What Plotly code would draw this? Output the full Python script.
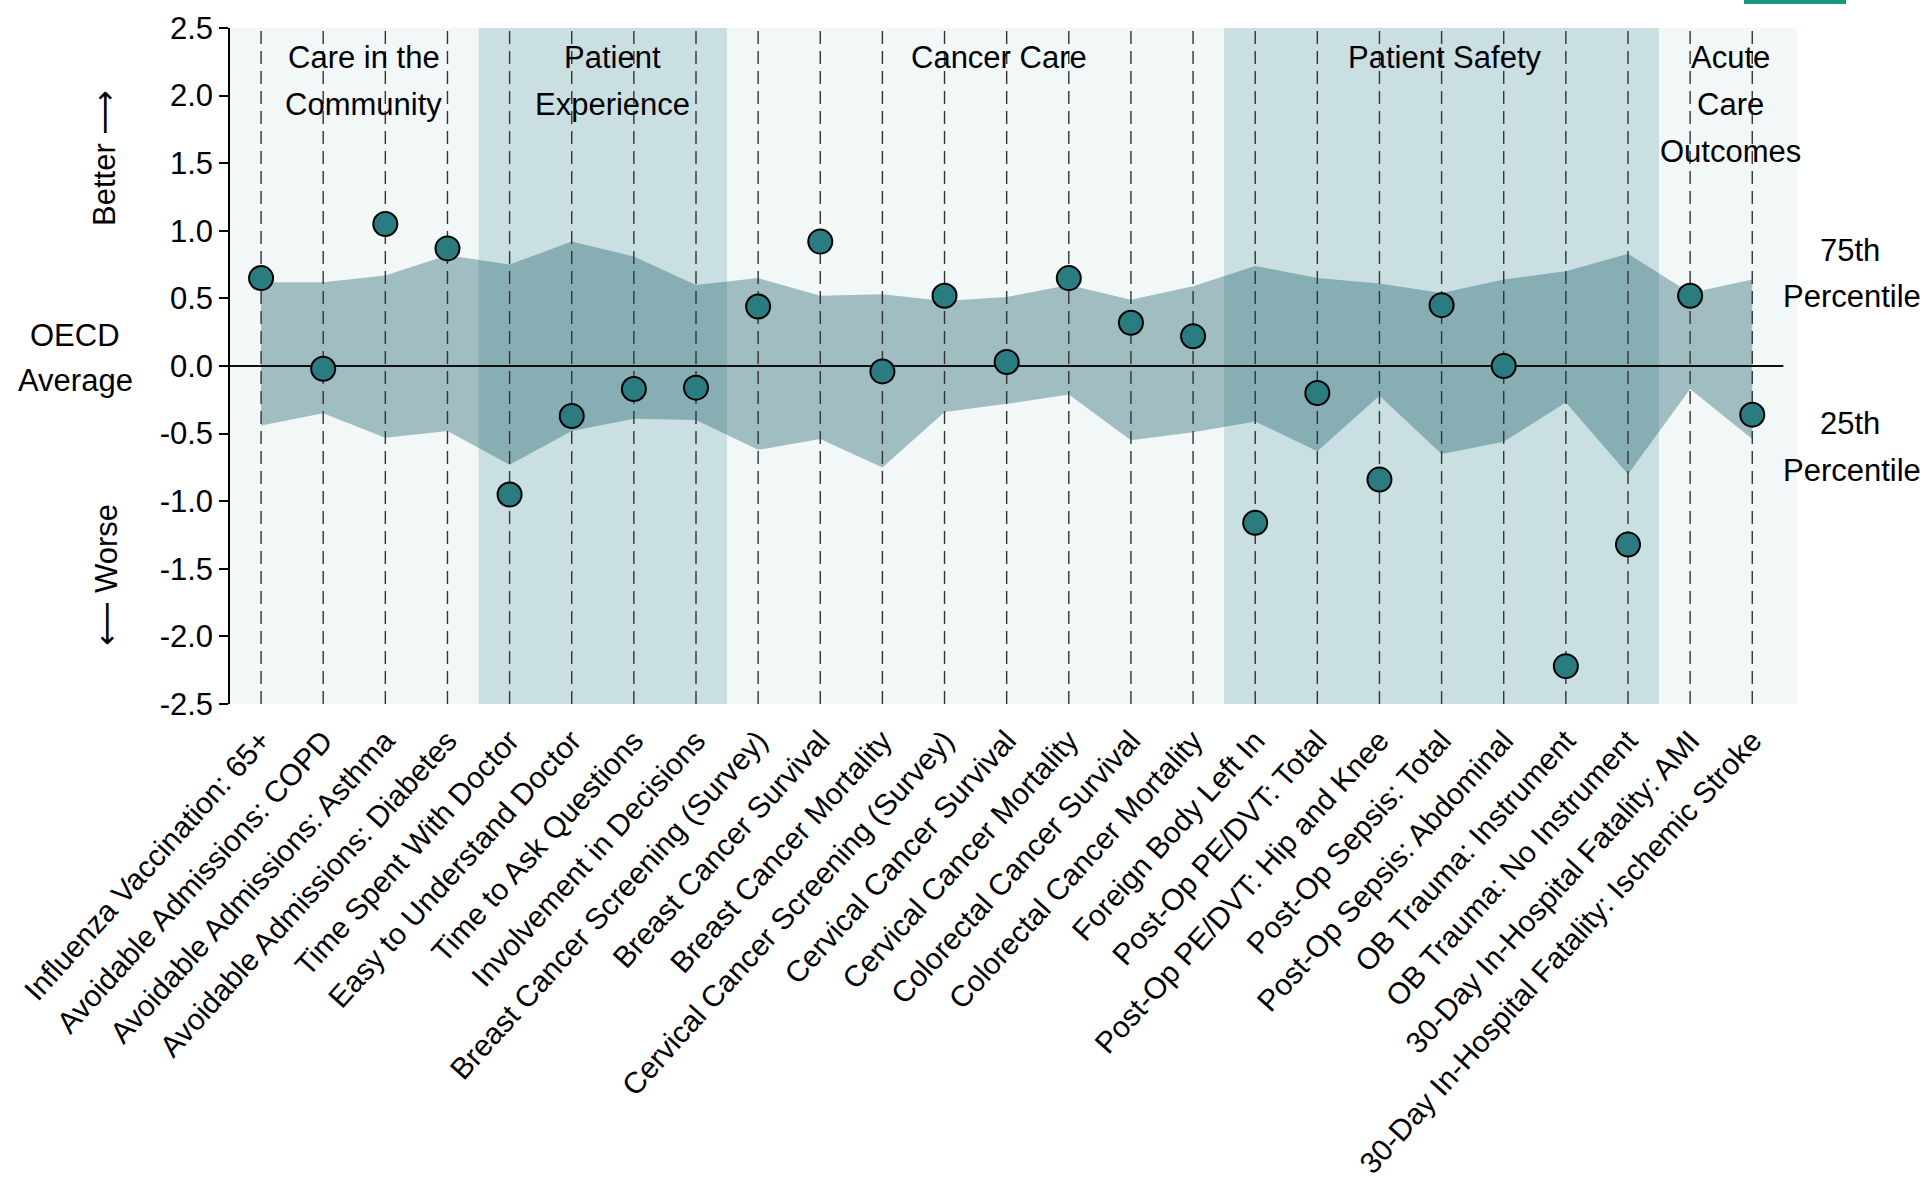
import plotly.graph_objects as go

# ---------------- data ----------------
categories = [
    "Influenza Vaccination: 65+",
    "Avoidable Admissions: COPD",
    "Avoidable Admissions: Asthma",
    "Avoidable Admissions: Diabetes",
    "Time Spent With Doctor",
    "Easy to Understand Doctor",
    "Time to Ask Questions",
    "Involvement in Decisions",
    "Breast Cancer Screening (Survey)",
    "Breast Cancer Survival",
    "Breast Cancer Mortality",
    "Cervical Cancer Screening (Survey)",
    "Cervical Cancer Survival",
    "Cervical Cancer Mortality",
    "Colorectal Cancer Survival",
    "Colorectal Cancer Mortality",
    "Foreign Body Left In",
    "Post-Op PE/DVT: Total",
    "Post-Op PE/DVT: Hip and Knee",
    "Post-Op Sepsis: Total",
    "Post-Op Sepsis: Abdominal",
    "OB Trauma: Instrument",
    "OB Trauma: No Instrument",
    "30-Day In-Hospital Fatality: AMI",
    "30-Day In-Hospital Fatality: Ischemic Stroke",
]

values = [0.65, -0.02, 1.05, 0.87, -0.95, -0.37, -0.17, -0.16, 0.44, 0.92,
          -0.04, 0.52, 0.03, 0.65, 0.32, 0.22, -1.16, -0.20, -0.84, 0.45,
          0.00, -2.22, -1.32, 0.52, -0.36]

p75 = [0.62, 0.62, 0.67, 0.82, 0.75, 0.92, 0.81, 0.60, 0.65, 0.52,
       0.53, 0.48, 0.51, 0.60, 0.49, 0.59, 0.74, 0.65, 0.61, 0.54,
       0.64, 0.70, 0.83, 0.54, 0.64]

p25 = [-0.44, -0.35, -0.53, -0.48, -0.73, -0.48, -0.39, -0.40, -0.62, -0.54,
       -0.75, -0.34, -0.28, -0.21, -0.55, -0.49, -0.41, -0.63, -0.22, -0.65,
       -0.56, -0.27, -0.80, -0.17, -0.54]

group_lines = [["Care in the", "Community"], ["Patient", "Experience"], ["Cancer Care"],
               ["Patient Safety"], ["Acute", "Care", "Outcomes"]]
group_start = [-0.5, 3.5, 7.5, 15.5, 22.5]
group_end = [3.5, 7.5, 15.5, 22.5, 24.72]
group_label_x = [1.65, 5.65, 11.87, 19.06, 23.65]

y_tick_values = [-2.5, -2.0, -1.5, -1.0, -0.5, 0.0, 0.5, 1.0, 1.5, 2.0, 2.5]
y_tick_labels = ["-2.5", "-2.0", "-1.5", "-1.0", "-0.5", "0.0", "0.5", "1.0", "1.5", "2.0", "2.5"]

# ---------------- styling ----------------
FONT = "Liberation Sans, Arial, sans-serif"
LIGHT = "#F2F7F8"
MEDIUM = "#CADFE1"
FILL = "rgba(32,97,107,0.39)"
MARKER = "#2A7C80"
TXT = 31

# plot-area pixel geometry
L, R, T, B = 230, 1797, 28, 704
W, H = R - L, B - T


def px_x(p):
    return (p - L) / W


def px_y(p):
    return (B - p) / H


x_idx = list(range(len(categories)))

fig = go.Figure()

# percentile band
fig.add_trace(go.Scatter(x=x_idx, y=p25, mode="lines", line=dict(width=0),
                         hoverinfo="skip", showlegend=False))
fig.add_trace(go.Scatter(x=x_idx, y=p75, mode="lines", line=dict(width=0),
                         fill="tonexty", fillcolor=FILL,
                         hoverinfo="skip", showlegend=False))

# dashed vertical lines
vx, vy = [], []
for i in x_idx:
    vx += [i, i, None]
    vy += [-2.5, 2.5, None]
fig.add_trace(go.Scatter(x=vx, y=vy, mode="lines",
                         line=dict(color="#333333", width=1.4, dash="13px,7px"),
                         hoverinfo="skip", showlegend=False))

# zero line
fig.add_trace(go.Scatter(x=[-0.5, 24.5], y=[0, 0], mode="lines",
                         line=dict(color="#111111", width=2),
                         hoverinfo="skip", showlegend=False))

# markers
fig.add_trace(go.Scatter(x=x_idx, y=values, mode="markers",
                         marker=dict(size=24, color=MARKER,
                                     line=dict(color="black", width=2)),
                         showlegend=False))

# group background bands
shapes = []
for k, (s, e) in enumerate(zip(group_start, group_end)):
    shapes.append(dict(type="rect", xref="x", yref="y", x0=s, x1=e, y0=-2.5, y1=2.5,
                       fillcolor=LIGHT if k % 2 == 0 else MEDIUM,
                       line=dict(width=0), layer="below"))
# partial logo sliver at top right
shapes.append(dict(type="rect", xref="paper", yref="paper",
                   x0=px_x(1744), x1=px_x(1846), y0=px_y(4), y1=px_y(-2),
                   fillcolor="#17967A", line=dict(width=0), layer="above"))

annotations = []
# group labels, one annotation per line (line centres in pixels)
for lines, gx in zip(group_lines, group_label_x):
    for j, line in enumerate(lines):
        annotations.append(dict(x=gx, y=px_y(57 + 47 * j), xref="x", yref="paper",
                                text=line, showarrow=False, xanchor="center",
                                yanchor="middle",
                                font=dict(family=FONT, size=TXT, color="black")))

side_lines = [
    ("OECD", 75, 335), ("Average", 75, 380),
    ("75th", 1850, 251), ("Percentile", 1852, 296),
    ("25th", 1850, 423), ("Percentile", 1852, 470),
]
for txt, sx, sy in side_lines:
    annotations.append(dict(x=px_x(sx), y=px_y(sy), xref="paper", yref="paper",
                            text=txt, showarrow=False, xanchor="center",
                            yanchor="middle",
                            font=dict(family=FONT, size=TXT, color="black")))

ARROW = "<span style='font-family:DejaVu Sans'>%s</span>"
rot = [("Better " + ARROW % "\u27f6", 104, 158), (ARROW % "\u27f5" + " Worse", 106, 575)]
for txt, sx, sy in rot:
    annotations.append(dict(x=px_x(sx), y=px_y(sy), xref="paper", yref="paper",
                            text=txt, showarrow=False, xanchor="center",
                            yanchor="middle", textangle=-90,
                            font=dict(family=FONT, size=TXT, color="black")))

fig.update_layout(
    width=1920, height=1192, autosize=False,
    margin=dict(l=L, r=1920 - R, t=T, b=1192 - B, pad=0),
    paper_bgcolor="white", plot_bgcolor="white",
    font=dict(family=FONT, color="black"),
    shapes=shapes, annotations=annotations,
    showlegend=False,
    xaxis=dict(range=[-0.5, 24.72], tickmode="array", tickvals=x_idx, ticktext=categories,
               tickangle=-48, showgrid=False, zeroline=False, showline=False, ticks="",
               automargin=False, ticklabeloverflow="allow", ticklabelstandoff=12,
               tickfont=dict(family=FONT, size=30, color="black"), fixedrange=True),
    yaxis=dict(range=[-2.5, 2.5], tickmode="array", tickvals=y_tick_values,
               ticktext=y_tick_labels, showgrid=False, zeroline=False,
               showline=True, linecolor="black", linewidth=1.5,
               ticks="outside", ticklen=9, tickwidth=1.5, tickcolor="black",
               automargin=False, ticklabeloverflow="allow",
               tickfont=dict(family=FONT, size=31, color="black"), fixedrange=True),
)

fig.write_html("out.html", config={"displayModeBar": False},
               post_script="document.body.style.margin='0';document.body.style.overflow='hidden';")
